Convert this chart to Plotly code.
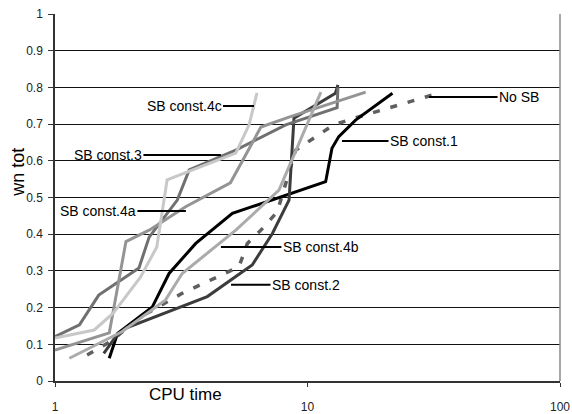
import plotly.graph_objects as go
import math

# ---- data ----
nosb_x = [1.34, 1.67, 2.15, 3.19, 5.35, 5.78, 6.54, 7.59, 8.98, 12.7, 15.3, 32.2]
nosb_y = [0.071, 0.109, 0.172, 0.239, 0.311, 0.375, 0.411, 0.461, 0.629, 0.698, 0.716, 0.782]

sb1_x = [1.64, 1.77, 2.43, 2.83, 3.61, 5.04, 6.04, 11.8, 12.5, 13.3, 15.5, 21.7]
sb1_y = [0.062, 0.130, 0.202, 0.293, 0.375, 0.457, 0.475, 0.543, 0.634, 0.666, 0.711, 0.784]

sb2_x = [1.56, 1.74, 1.91, 4.01, 6.04, 7.26, 8.45, 8.84, 12.9, 13.2]
sb2_y = [0.075, 0.121, 0.144, 0.230, 0.316, 0.402, 0.493, 0.716, 0.784, 0.807]

sb3_x = [1.0, 1.25, 1.49, 2.15, 2.36, 3.05, 3.40, 5.20, 8.20, 13.1, 13.2]
sb3_y = [0.121, 0.153, 0.234, 0.308, 0.392, 0.493, 0.575, 0.629, 0.698, 0.745, 0.80]

sb4a_x = [1.0, 1.64, 1.91, 2.36, 3.29, 4.95, 6.54, 8.45, 17.0]
sb4a_y = [0.084, 0.131, 0.380, 0.411, 0.475, 0.540, 0.692, 0.719, 0.787]

sb4b_x = [1.14, 1.84, 2.74, 3.19, 5.20, 7.71, 11.3]
sb4b_y = [0.062, 0.134, 0.221, 0.293, 0.411, 0.520, 0.787]

sb4c_x = [1.0, 1.43, 1.70, 2.18, 2.53, 2.70, 2.78, 5.20, 5.87, 6.31]
sb4c_y = [0.117, 0.139, 0.185, 0.283, 0.365, 0.493, 0.548, 0.621, 0.698, 0.785]

series = [
    ("No SB", nosb_x, nosb_y, "#5f5f5f", "7px,11px", 3.5),
    ("SB const.1", sb1_x, sb1_y, "#000000", "solid", 3),
    ("SB const.2", sb2_x, sb2_y, "#3c3c3c", "solid", 3),
    ("SB const.3", sb3_x, sb3_y, "#707070", "solid", 3),
    ("SB const.4a", sb4a_x, sb4a_y, "#949494", "solid", 3),
    ("SB const.4b", sb4b_x, sb4b_y, "#ababab", "solid", 3),
    ("SB const.4c", sb4c_x, sb4c_y, "#c8c8c8", "solid", 3),
]

# label: (text, target x, target y, pixel offset of text centre)
labels = [
    ("SB const.4c", 6.14, 0.749, -70),
    ("SB const.3", 4.54, 0.616, -113),
    ("SB const.4a", 3.30, 0.463, -88),
    ("SB const.4b", 4.54, 0.365, 100),
    ("SB const.2", 4.98, 0.262, 75),
    ("SB const.1", 13.7, 0.654, 82),
    ("No SB", 30.3, 0.774, 90),
]

x_ticks = [1, 10, 100]
y_ticks = [0, 0.1, 0.2, 0.3, 0.4, 0.5, 0.6, 0.7, 0.8, 0.9, 1]
y_tick_text = ["0", "0.1", "0.2", "0.3", "0.4", "0.5", "0.6", "0.7", "0.8", "0.9", "1"]

FONT = "Liberation Sans, Arial, sans-serif"

fig = go.Figure()
for name, xs, ys, col, dash, w in series:
    fig.add_trace(go.Scatter(x=xs, y=ys, mode="lines", name=name,
                             line=dict(color=col, width=w, dash=dash),
                             showlegend=False))

for text, tx, ty, off in labels:
    fig.add_annotation(x=math.log10(tx), y=ty, xref="x", yref="y",
                       text=text, showarrow=True, arrowhead=0, arrowwidth=2,
                       arrowcolor="#000000", ax=off, ay=0, standoff=0,
                       font=dict(family=FONT, size=14, color="#000000"))

fig.add_annotation(text="wn tot", xref="paper", yref="paper", x=-0.072, y=0.569,
                   xanchor="center", yanchor="middle",
                   showarrow=False, textangle=-90,
                   font=dict(family=FONT, size=18, color="#000000"))
fig.add_annotation(text="CPU time", xref="paper", yref="paper", x=0.258, y=-0.038,
                   xanchor="center", yanchor="middle",
                   showarrow=False,
                   font=dict(family=FONT, size=17, color="#000000"))

# right frame line
fig.add_shape(type="line", xref="paper", yref="paper", x0=1, x1=1, y0=0, y1=1,
              line=dict(color="#8a8a8a", width=1.5))

fig.update_layout(
    width=572, height=414,
    margin=dict(l=55, r=12, t=14, b=33, autoexpand=False),
    paper_bgcolor="white", plot_bgcolor="white",
    font=dict(family=FONT, size=12, color="#222222"),
    xaxis=dict(type="log", range=[0, 2], tickvals=x_ticks, ticktext=["1", "10", "100"],
               showgrid=False, showline=True, linecolor="#333333", linewidth=1.5,
               ticks="outside", ticklen=4, tickcolor="#333333", ticklabelstandoff=10,
               zeroline=False, tickfont=dict(size=12), automargin=False),
    yaxis=dict(range=[0, 1], tickvals=y_ticks, ticktext=y_tick_text,
               showgrid=True, gridcolor="#111111", gridwidth=1,
               showline=True, linecolor="#333333", linewidth=1.5,
               ticks="outside", ticklen=5, tickcolor="#333333", ticklabelstandoff=3,
               zeroline=False, tickfont=dict(size=12), automargin=False),
)

fig.write_html("out.html")
